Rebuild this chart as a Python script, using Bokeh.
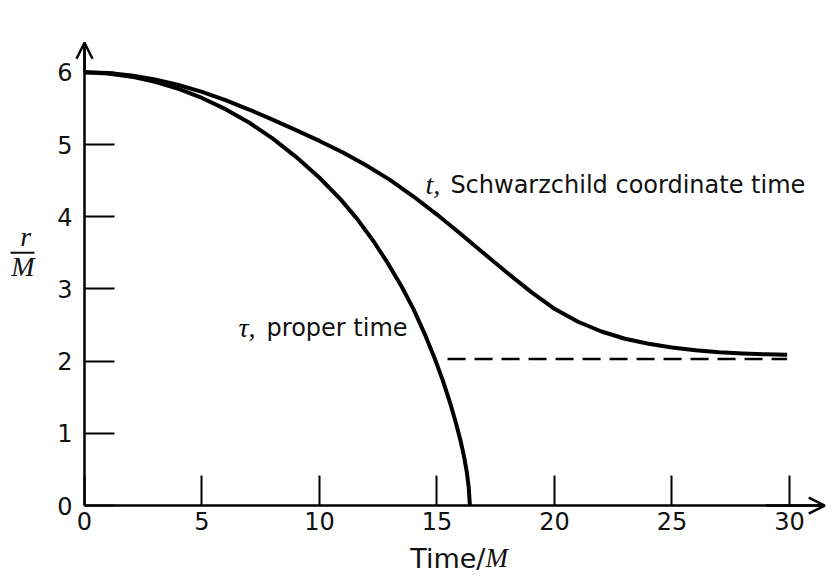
from bokeh.plotting import figure
from bokeh.models import Range1d, FixedTicker, LinearAxis, Arrow, OpenHead
from bokeh.core.properties import value
from bokeh.embed import file_html
from bokeh.resources import INLINE

# ---- data ----
tau_time = [0, 1.0, 2.0, 3.0, 4.0, 5.0, 6.0, 7.0, 8.0, 9.0, 10.0, 10.9, 11.6,
            12.3, 12.9, 13.5, 14.0, 14.5, 14.9, 15.25, 15.55, 15.8, 16.0,
            16.15, 16.27, 16.35, 16.4]
tau_r = [6.0, 5.985, 5.94, 5.87, 5.77, 5.645, 5.49, 5.305, 5.085, 4.83, 4.54, 4.24, 3.97,
         3.66, 3.36, 3.03, 2.72, 2.36, 2.04, 1.73, 1.43, 1.15, 0.9,
         0.68, 0.46, 0.25, 0.0]

coord_time = [0, 1.0, 2.0, 3.0, 4.0, 5.0, 6.0, 7.0, 8.0, 9.0, 10.0, 11.0, 12.0,
              13.0, 14.0, 15.0, 16.0, 17.0, 18.0, 19.0, 20.0, 21.0, 22.0, 23.0,
              24.0, 25.0, 26.0, 27.0, 28.0, 29.0, 29.9]
coord_r = [6.0, 5.99, 5.955, 5.9, 5.825, 5.73, 5.615, 5.485, 5.345, 5.2, 5.05, 4.89, 4.71,
           4.51, 4.28, 4.03, 3.765, 3.49, 3.22, 2.96, 2.725, 2.545, 2.41, 2.31,
           2.24, 2.19, 2.15, 2.122, 2.105, 2.095, 2.09]

horizon_t = [15.45, 29.9]
horizon_r = [2.03, 2.03]

x_ticks = [0, 5, 10, 15, 20, 25, 30]
y_ticks = [0, 1, 2, 3, 4, 5, 6]

label_t = "Schwarzchild coordinate time"
label_tau = "proper time"

SANS = "DejaVu Sans"
SERIF = "Liberation Serif"
INK = "#111111"

p = figure(width=834, height=577,
           x_range=Range1d(-3.574, 31.915), y_range=Range1d(-0.997, 6.995),
           output_backend="svg", toolbar_location=None, title=None,
           x_axis_type=None, y_axis_type=None, min_border=0)
p.outline_line_color = None
p.background_fill_color = "white"
p.border_fill_color = "white"

xaxis = LinearAxis(ticker=FixedTicker(ticks=x_ticks), fixed_location=0,
                   bounds=(0, 31.5))
yaxis = LinearAxis(ticker=FixedTicker(ticks=y_ticks), fixed_location=0,
                   bounds=(0, 6.41))
for ax in (xaxis, yaxis):
    ax.axis_line_width = 2.5
    ax.axis_line_color = "black"
    ax.major_tick_line_width = 2
    ax.major_tick_line_color = "black"
    ax.major_tick_in = 30
    ax.major_tick_out = 0
    ax.minor_tick_line_color = None
    ax.major_label_text_font = SANS
    ax.major_label_text_font_size = "24px"
    ax.major_label_text_color = INK
xaxis.major_label_standoff = 6
yaxis.major_label_standoff = 12
p.add_layout(xaxis, "below")
p.add_layout(yaxis, "left")

# axis arrow heads
p.add_layout(Arrow(end=OpenHead(size=16, line_width=2.5, line_color="black"),
                   x_start=29.0, y_start=0, x_end=31.5, y_end=0,
                   line_width=2.5, line_color="black"))
p.add_layout(Arrow(end=OpenHead(size=16, line_width=2.5, line_color="black"),
                   x_start=0, y_start=6.0, x_end=0, y_end=6.41,
                   line_width=2.5, line_color="black"))

# curves
p.line(coord_time, coord_r, line_width=4, line_color="black", line_join="round")
p.line(tau_time, tau_r, line_width=4, line_color="black", line_join="round")
p.line(horizon_t, horizon_r, line_width=2.5, line_color="black", line_dash="18 9")

# curve labels
p.text(x=[14.51], y=[4.44], text=["t,"], text_font=value(SERIF),
       text_font_style="italic", text_font_size=value("28px"),
       text_baseline="alphabetic", text_align="left", text_color=INK)
p.text(x=[15.57], y=[4.44], text=[label_t], text_font=value(SANS),
       text_font_size=value("24px"), text_baseline="alphabetic",
       text_align="left", text_color=INK)
p.text(x=[6.55], y=[2.46], text=["\u03c4,"], text_font=value(SERIF),
       text_font_style="italic", text_font_size=value("28px"),
       text_baseline="alphabetic", text_align="left", text_color=INK)
p.text(x=[7.75], y=[2.46], text=[label_tau], text_font=value(SANS),
       text_font_size=value("24px"), text_baseline="alphabetic",
       text_align="left", text_color=INK)

# y axis label r / M
p.text(x=[-2.5], y=[3.72], text=["r"], text_font=value(SERIF),
       text_font_style="italic", text_font_size=value("28px"),
       text_baseline="alphabetic", text_align="center", text_color=INK)
p.segment(x0=[-3.15], y0=[3.5], x1=[-2.13], y1=[3.5], line_width=2, line_color=INK)
p.text(x=[-2.62], y=[3.52], text=["M"], text_font=value(SERIF),
       text_font_style="italic", text_font_size=value("28px"),
       text_baseline="top", text_align="center", text_color=INK)

# x axis label Time/M
p.text(x=[17.06], y=[-0.73], text=["Time/"], text_font=value(SANS),
       text_font_size=value("27px"), text_baseline="alphabetic",
       text_align="right", text_color=INK)
p.text(x=[17.06], y=[-0.73], text=["M"], text_font=value(SERIF),
       text_font_style="italic", text_font_size=value("27px"),
       text_baseline="alphabetic", text_align="left", text_color=INK)

open("out.html", "w").write(file_html(p, INLINE))
